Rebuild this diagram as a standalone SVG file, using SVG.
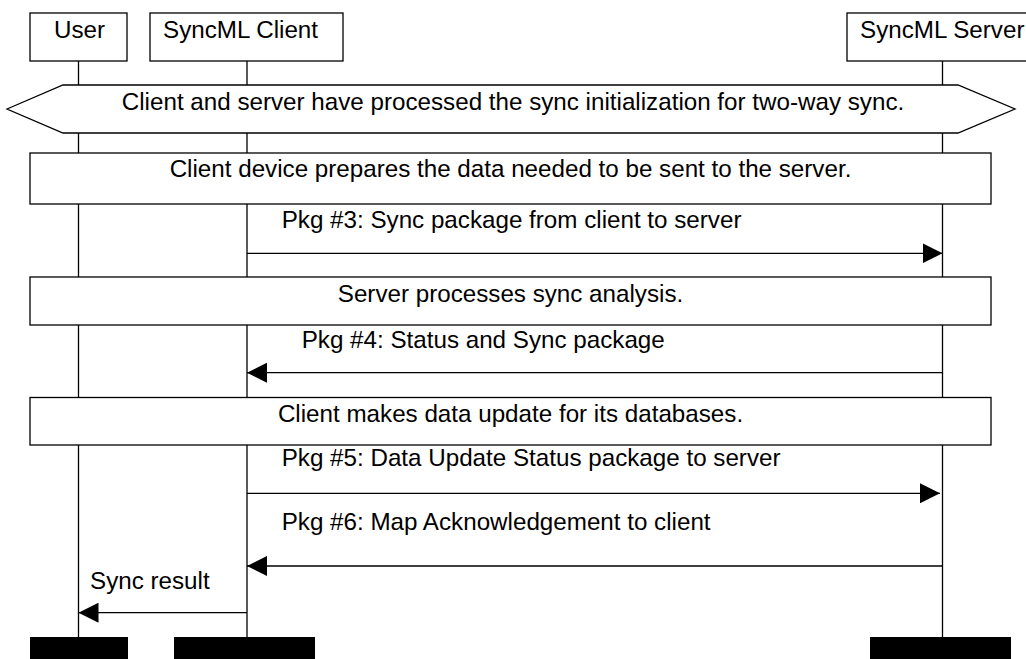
<svg xmlns="http://www.w3.org/2000/svg" width="1026" height="659" viewBox="0 0 1026 659">
<style>
  .box { fill: #fff; stroke: #000; stroke-width: 1.3; }
  .life { stroke: #000; stroke-width: 1.3; fill: none; }
  .msg { stroke: #000; stroke-width: 1.3; fill: none; }
  .t { font-family: "Liberation Sans", Arial, sans-serif; font-size: 24.2px; fill: #000; }
  .c { text-anchor: middle; }
  .bar { fill: #000; }
</style>
<defs>
  <marker id="ah" viewBox="0 0 20 20" refX="20" refY="10" markerWidth="20" markerHeight="20" markerUnits="userSpaceOnUse" orient="auto">
    <path d="M0,0 L20,10 L0,20 Z" fill="#000"/>
  </marker>
</defs>
<rect width="1026" height="659" fill="#fff"/>
<g id="lifelines">
  <line class="life" x1="78.5" y1="61" x2="78.5" y2="637"/>
  <line class="life" x1="247" y1="61" x2="247" y2="637"/>
  <line class="life" x1="942.5" y1="61" x2="942.5" y2="637"/>
</g>
<g id="user">
  <rect class="box" x="30" y="13" width="97" height="48"/>
  <text class="t" x="54" y="38">User</text>
  <rect class="bar" x="30" y="637" width="98" height="30"/>
</g>
<g id="client">
  <rect class="box" x="150" y="13" width="193" height="48"/>
  <text class="t" x="163" y="38">SyncML Client</text>
  <rect class="bar" x="174" y="637" width="141" height="30"/>
</g>
<g id="server">
  <rect class="box" x="847" y="13" width="200" height="48"/>
  <text class="t" x="860" y="38">SyncML Server</text>
  <rect class="bar" x="870" y="637" width="141" height="30"/>
</g>
<g id="init">
  <polygon class="box" points="7,109 63,85 958,85 1015,109 958,133 63,133"/>
  <text class="t c" x="513" y="110">Client and server have processed the sync initialization for two-way sync.</text>
</g>
<g id="prepare">
  <rect class="box" x="30" y="153" width="961" height="51"/>
  <text class="t c" x="510.5" y="176.5">Client device prepares the data needed to be sent to the server.</text>
</g>
<g id="analysis">
  <rect class="box" x="30" y="277" width="961" height="48"/>
  <text class="t c" x="510.5" y="301.5">Server processes sync analysis.</text>
</g>
<g id="update">
  <rect class="box" x="30" y="397.5" width="961" height="47.5"/>
  <text class="t c" x="510.5" y="421.5">Client makes data update for its databases.</text>
</g>
<g id="connectors">
  <line class="msg" x1="247" y1="253.3" x2="942.5" y2="253.3" marker-end="url(#ah)"/>
  <text class="t" x="281.7" y="228">Pkg #3: Sync package from client to server</text>
  <line class="msg" x1="942.5" y1="372.7" x2="247" y2="372.7" marker-end="url(#ah)"/>
  <text class="t" x="301.7" y="348.3">Pkg #4: Status and Sync package</text>
  <line class="msg" x1="247" y1="493.3" x2="940" y2="493.3" marker-end="url(#ah)"/>
  <text class="t" x="281.7" y="466">Pkg #5: Data Update Status package to server</text>
  <line class="msg" x1="942.5" y1="566" x2="247" y2="566" marker-end="url(#ah)"/>
  <text class="t" x="281.7" y="530">Pkg #6: Map Acknowledgement to client</text>
  <line class="msg" x1="247" y1="612.7" x2="78.5" y2="612.7" marker-end="url(#ah)"/>
  <text class="t" x="90" y="589.3">Sync result</text>
</g>
</svg>
